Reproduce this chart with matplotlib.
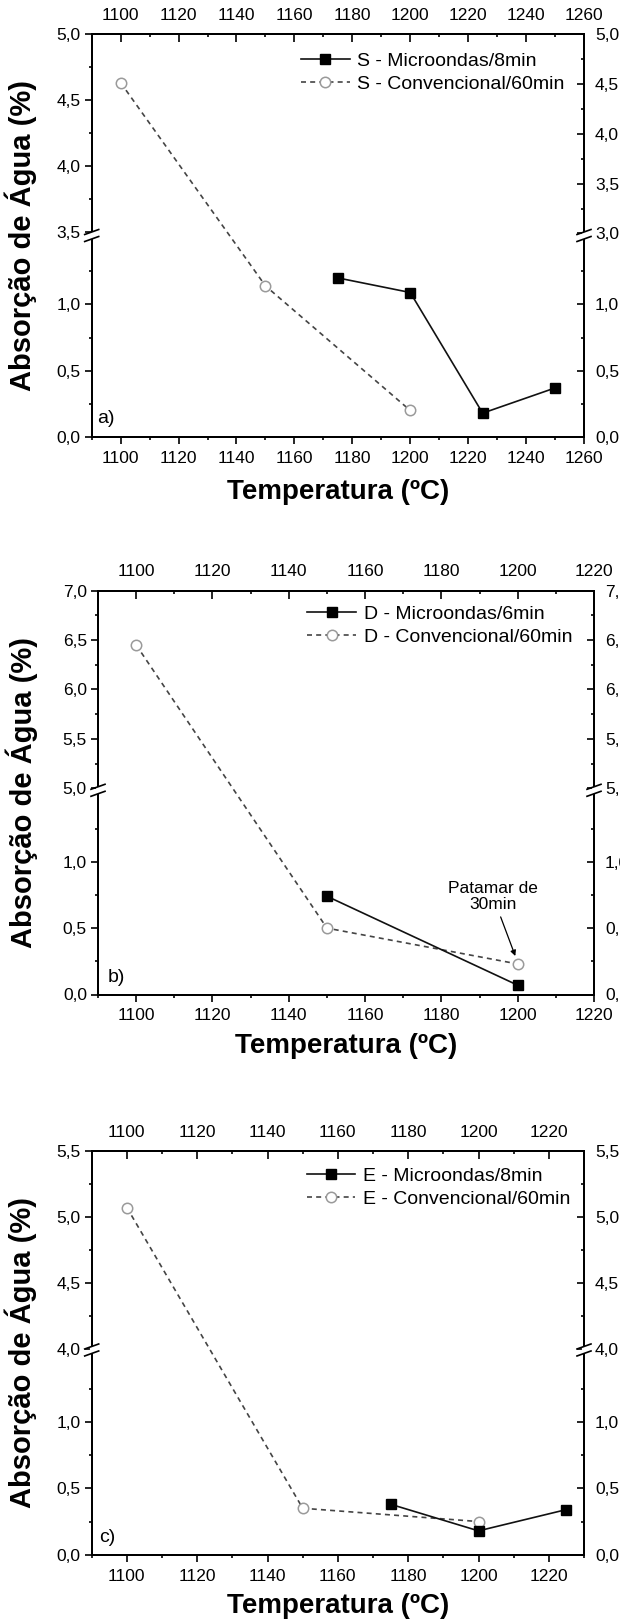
import numpy as np
import matplotlib.pyplot as plt
from matplotlib.ticker import FixedLocator, FuncFormatter, MultipleLocator

plt.rcParams['font.family'] = ['Liberation Sans', 'DejaVu Sans']

# ---- data ----
# a) S
a_micro_T = [1175, 1200, 1225, 1250]
a_micro_abs = [1.20, 1.09, 0.18, 0.37]
a_conv_T = [1100, 1150, 1200]
a_conv_abs = [4.63, 1.14, 0.20]
a_labels = ['S - Microondas/8min', 'S - Convencional/60min']

# b) D
b_micro_T = [1150, 1200]
b_micro_abs = [0.74, 0.07]
b_conv_T = [1100, 1150, 1200]
b_conv_abs = [6.45, 0.50, 0.23]
b_labels = ['D - Microondas/6min', 'D - Convencional/60min']

# c) E
c_micro_T = [1175, 1200, 1225]
c_micro_abs = [0.38, 0.18, 0.34]
c_conv_T = [1100, 1150, 1200]
c_conv_abs = [5.07, 0.35, 0.25]
c_labels = ['E - Microondas/8min', 'E - Convencional/60min']

# tick values
a_xticks = [1100, 1120, 1140, 1160, 1180, 1200, 1220, 1240, 1260]
bc_xticks = [1100, 1120, 1140, 1160, 1180, 1200, 1220]
a_left_yticks = [0.0, 0.5, 1.0, 3.5, 4.0, 4.5, 5.0]
a_right_yticks = [0.0, 0.5, 1.0, 3.0, 3.5, 4.0, 4.5, 5.0]
b_yticks = [0.0, 0.5, 1.0, 5.0, 5.5, 6.0, 6.5, 7.0]
c_yticks = [0.0, 0.5, 1.0, 4.0, 4.5, 5.0, 5.5]

W, H = 620, 1623
LABEL_FONT = ['Liberation Sans', 'DejaVu Sans']
TICK_SIZE = 12.5


def broken_scale(lo_top, hi_bot, hi_top, frac_lo):
    # piecewise linear y scale with a break between lo_top and hi_bot
    gap = 1e-4
    s_lo = frac_lo / lo_top
    s_mid = gap / (hi_bot - lo_top)
    s_hi = (1 - frac_lo - gap) / (hi_top - hi_bot)

    def fwd(y):
        y = np.asarray(y, dtype=float)
        return np.where(y <= lo_top, y * s_lo,
                        np.where(y <= hi_bot, frac_lo + (y - lo_top) * s_mid,
                                 frac_lo + gap + (y - hi_bot) * s_hi))

    def inv(f):
        f = np.asarray(f, dtype=float)
        return np.where(f <= frac_lo, f / s_lo,
                        np.where(f <= frac_lo + gap, lo_top + (f - frac_lo) / s_mid,
                                 hi_bot + (f - frac_lo - gap) / s_hi))
    return fwd, inv


def minors(major, lo_top, hi_bot, hi_top):
    vals = np.arange(0, hi_top + 0.01, 0.25)
    return [v for v in vals if (v < lo_top - 0.1 or v > hi_bot - 0.01) and v not in major]


comma = FuncFormatter(lambda v, p: f'{v:.1f}'.replace('.', ','))


def panel(px, xlim, xticks, lspec, rspec, lticks, rticks, micro, conv, labels,
          tag, tag_xy, leg_xy, ylab_x, xlab_y):
    l, r, t, b = px
    ax = fig.add_axes([l / W, (H - b) / H, (r - l) / W, (b - t) / H])
    lo_top, hi_bot, hi_top, frac = lspec
    ax.set_yscale('function', functions=broken_scale(*lspec))
    ax.set_ylim(0, hi_top)
    ax.set_xlim(*xlim)

    ax.plot(conv[0], conv[1], linestyle=(0, (3, 2.5)), color='#444444', lw=1.2,
            marker='o', ms=7.5, mfc='white', mec='#9a9a9a', mew=1.1, label=labels[1], zorder=3)
    ax.plot(micro[0], micro[1], '-', color='#111111', lw=1.2, marker='s', ms=6.5,
            mfc='black', mec='black', label=labels[0], zorder=4)

    ax.yaxis.set_major_locator(FixedLocator(lticks))
    ax.yaxis.set_minor_locator(FixedLocator(minors(lticks, lo_top, hi_bot, hi_top)))
    ax.yaxis.set_major_formatter(comma)
    ax.set_xticks(xticks)
    ax.xaxis.set_minor_locator(MultipleLocator(10))
    ax.tick_params(axis='both', which='both', direction='out', top=False, right=False,
                   labelsize=TICK_SIZE, width=1.2)
    ax.tick_params(which='major', length=5)
    ax.tick_params(which='minor', length=2.5)
    ax.tick_params(axis='y', pad=3)
    ax.tick_params(axis='x', pad=5)
    for s in ax.spines.values():
        s.set_linewidth(1.4)

    top = ax.secondary_xaxis('top')
    top.set_xticks(xticks)
    top.xaxis.set_minor_locator(MultipleLocator(10))
    top.tick_params(axis='x', which='both', direction='in', labelsize=TICK_SIZE, width=1.2, pad=8)
    top.tick_params(which='major', length=5.5)
    top.tick_params(which='minor', length=2.5)
    top.spines['top'].set_linewidth(1.4)

    tw = ax.twinx()
    rlo, rhi_bot, rhi_top, rfrac = rspec
    tw.set_yscale('function', functions=broken_scale(*rspec))
    tw.set_ylim(0, rhi_top)
    tw.yaxis.set_major_locator(FixedLocator(rticks))
    tw.yaxis.set_minor_locator(FixedLocator(minors(rticks, rlo, rhi_bot, rhi_top)))
    tw.yaxis.set_major_formatter(comma)
    tw.tick_params(axis='y', which='both', direction='in', labelsize=TICK_SIZE, width=1.2, pad=8)
    tw.tick_params(which='major', length=5)
    tw.tick_params(which='minor', length=2.5)
    for s in tw.spines.values():
        s.set_linewidth(1.4)

    # break marks on both vertical spines
    yb = frac
    dx = 7 / (r - l)
    dy = 2.5 / (b - t)
    sep = 3.5 / (b - t)
    for xs in (0, 1):
        tw.plot([xs, xs], [yb - sep, yb + sep], transform=ax.transAxes, color='white',
                lw=3, clip_on=False, zorder=10, solid_capstyle='butt')
        for off in (-sep, sep):
            tw.plot([xs - dx, xs + dx], [yb + off - dy, yb + off + dy], transform=ax.transAxes,
                    color='black', lw=1.2, clip_on=False, zorder=11)

    h, lb = ax.get_legend_handles_labels()
    ax.legend(h[::-1], lb[::-1], loc='upper left', bbox_to_anchor=leg_xy, frameon=False,
              fontsize=14, handlelength=2.5, handletextpad=0.4, labelspacing=0.3,
              borderpad=0, borderaxespad=0)

    ax.text(tag_xy[0], tag_xy[1], tag, transform=ax.transAxes, fontsize=14,
            va='center', ha='left')
    ax.set_ylabel('Absorção de Água (%)', fontsize=21, fontweight='bold', family=LABEL_FONT)
    ax.yaxis.set_label_coords(ylab_x, 0.5)
    ax.set_xlabel('Temperatura (ºC)', fontsize=20, fontweight='bold', family=LABEL_FONT)
    ax.xaxis.set_label_coords(0.5, xlab_y)
    return ax


fig = plt.figure(figsize=(W / 100, H / 100), dpi=100)

panel((91.7, 584, 34, 437), (1090, 1260), a_xticks,
      (1.52, 3.47, 5.0, 0.5), (1.52, 2.98, 5.0, 0.5),
      a_left_yticks, a_right_yticks,
      (a_micro_T, a_micro_abs), (a_conv_T, a_conv_abs), a_labels,
      'a)', (0.011, 0.045), (0.425, 0.955), -0.111, -0.105)

ax_b = panel((98, 594, 590.6, 994.5), (1090, 1220), bc_xticks,
             (1.538, 4.98, 7.0, 0.5056), (1.538, 4.98, 7.0, 0.5056),
             b_yticks, b_yticks,
             (b_micro_T, b_micro_abs), (b_conv_T, b_conv_abs), b_labels,
             'b)', (0.019, 0.043), (0.422, 0.964), -0.121, -0.095)
ax_b.annotate('Patamar de\n30min', xy=(1199.5, 0.28), xytext=(1193.5, 0.74),
              ha='center', va='center', fontsize=12.5, linespacing=1.05,
              arrowprops=dict(arrowstyle='-|>', color='black', lw=0.9, mutation_scale=8,
                              shrinkA=2, shrinkB=1))

panel((91.7, 584, 1150.8, 1554.8), (1090, 1230), bc_xticks,
      (1.54, 3.99, 5.5, 0.507), (1.54, 3.99, 5.5, 0.507),
      c_yticks, c_yticks,
      (c_micro_T, c_micro_abs), (c_conv_T, c_conv_abs), c_labels,
      'c)', (0.015, 0.043), (0.437, 0.96), -0.111, -0.095)

fig.savefig('out.png', dpi=100)
